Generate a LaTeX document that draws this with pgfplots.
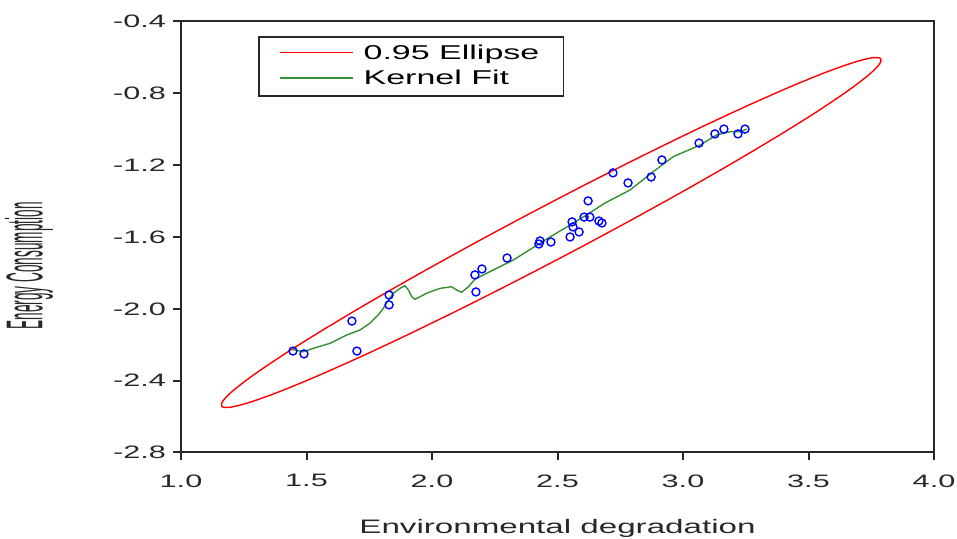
\documentclass[border=0pt]{standalone}
\usepackage{fontspec}
\setmainfont[FakeStretch=1.7]{Liberation Sans}
\newfontfamily\plainfont{Liberation Sans}
\usepackage{graphicx}
\usepackage{pgfplots}
\pgfplotsset{compat=1.18}
\definecolor{kgreen}{RGB}{50,145,50}
\definecolor{ered}{RGB}{255,0,0}
\definecolor{axgray}{RGB}{40,40,40}

\begin{document}
\begin{tikzpicture}
\useasboundingbox (-90.5pt,-43.25pt) rectangle (388pt,226.25pt);
\begin{axis}[
    at={(0,0)}, anchor=south west,
    scale only axis, width=376.5pt, height=215.5pt,
    xmin=1, xmax=4, ymin=-2.8, ymax=-0.4,
    xtick={1,1.5,2,2.5,3,3.5,4},
    ytick={-2.8,-2.4,-2.0,-1.6,-1.2,-0.8,-0.4},
    xticklabel={\pgfmathprintnumber[fixed,fixed zerofill,precision=1,assume math mode=true]{\tick}},
    yticklabel={\pgfmathprintnumber[fixed,fixed zerofill,precision=1,assume math mode=true]{\tick}},
    tick label style={font=\fontsize{9}{10}\selectfont, color=axgray},
    xticklabel style={yshift=-3.5pt},
    axis line style={axgray, line width=1pt},
    tick style={axgray, line width=1pt},
    major tick length=4pt,
    tick align=outside,
    xtick pos=bottom, ytick pos=left,
    xlabel={Environmental degradation},
    xlabel style={font=\fontsize{9.75}{11}\selectfont, color=axgray,
        at={(axis description cs:0.5,-0.1891)}, anchor=base},
    ylabel={\plainfont\fontsize{6.8}{8}\selectfont\scalebox{1}[3.8]{Energy Consumption}},
    ylabel style={color=axgray, at={(axis description cs:-0.2019,0.433)}, anchor=center},
    legend style={at={(axis description cs:0.1023,0.9664)}, anchor=north west,
        draw=axgray, line width=0.8pt, font=\fontsize{10}{12}\selectfont,
        inner xsep=10pt, inner ysep=2pt, row sep=0pt, column sep=3pt},
    legend cell align=left,
    legend image code/.code={\draw[#1, line width=0.9pt] (0pt,0.5pt) -- (36.5pt,0.5pt);},
]
% 0.95 ellipse
\addplot[ered, line width=0.7pt, smooth, mark=none] coordinates {
    (2.3944,-1.4658) (2.1677,-1.6357) (1.9504,-1.8037) (1.7489,-1.9648)
    (1.5696,-2.1141) (1.4177,-2.2468) (1.2980,-2.3593) (1.2139,-2.4480)
    (1.1684,-2.5100) (1.1624,-2.5437) (1.1964,-2.5480) (1.2691,-2.5226)
    (1.3786,-2.4685) (1.5213,-2.3872) (1.6930,-2.2813) (1.8885,-2.1540)
    (2.1018,-2.0089) (2.3265,-1.8507) (2.5556,-1.6842) (2.7823,-1.5143)
    (2.9996,-1.3463) (3.2011,-1.1852) (3.3804,-1.0359) (3.5323,-0.9032)
    (3.6520,-0.7907) (3.7361,-0.7020) (3.7816,-0.6400) (3.7876,-0.6063)
    (3.7536,-0.6020) (3.6809,-0.6274) (3.5714,-0.6815) (3.4287,-0.7628)
    (3.2570,-0.8687) (3.0615,-0.9960) (2.8482,-1.1411) (2.6235,-1.2993)
    (2.3944,-1.4658)
};
\addlegendentry{0.95 Ellipse}
% kernel fit
\addplot[kgreen, line width=0.7pt, mark=none] coordinates {
    (1.441,-2.225) (1.487,-2.239) (1.541,-2.214) (1.594,-2.192)
    (1.660,-2.146) (1.713,-2.118) (1.753,-2.080) (1.786,-2.034)
    (1.806,-1.997) (1.826,-1.951) (1.846,-1.913) (1.873,-1.886)
    (1.892,-1.871) (1.906,-1.895) (1.919,-1.932) (1.932,-1.947)
    (1.979,-1.913) (2.032,-1.886) (2.078,-1.877) (2.098,-1.895)
    (2.118,-1.908) (2.145,-1.877) (2.171,-1.835) (2.218,-1.802)
    (2.271,-1.765) (2.324,-1.728) (2.377,-1.682) (2.450,-1.617)
    (2.530,-1.550) (2.616,-1.477) (2.689,-1.411) (2.789,-1.338)
    (2.882,-1.236) (2.961,-1.153) (3.068,-1.088) (3.134,-1.032)
    (3.187,-1.014) (3.227,-1.014) (3.254,-0.999)
};
\addlegendentry{Kernel Fit}
% observations
\addplot[only marks, forget plot, mark=o, mark size=2pt,
    mark options={blue, line width=0.7pt}] coordinates {
    (1.446,-2.235) (1.490,-2.251) (1.681,-2.068) (1.701,-2.235)
    (1.829,-1.923) (1.829,-1.978) (2.171,-1.811) (2.199,-1.778)
    (2.175,-1.906) (2.299,-1.717) (2.430,-1.622) (2.426,-1.639)
    (2.474,-1.628) (2.558,-1.516) (2.562,-1.544) (2.586,-1.572)
    (2.550,-1.600) (2.606,-1.489) (2.629,-1.489) (2.665,-1.511)
    (2.677,-1.522) (2.622,-1.399) (2.721,-1.243) (2.781,-1.299)
    (2.873,-1.266) (2.916,-1.171) (3.064,-1.077) (3.127,-1.026)
    (3.163,-0.999) (3.219,-1.026) (3.247,-0.999)
};
\end{axis}
\end{tikzpicture}
\end{document}
